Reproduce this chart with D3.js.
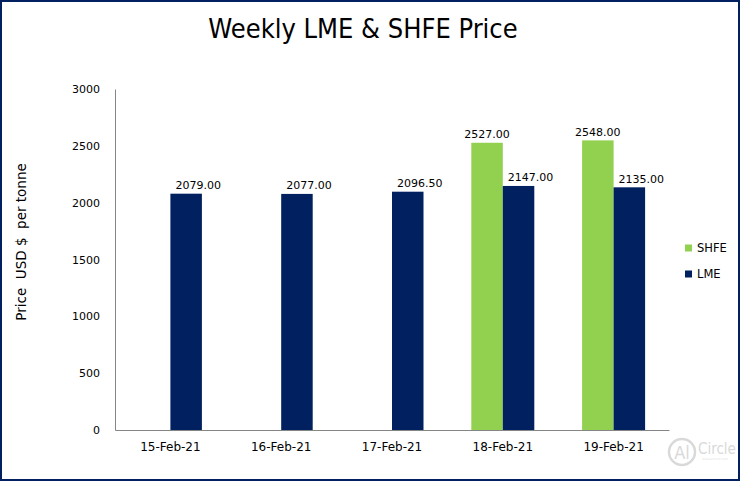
<!DOCTYPE html>
<html>
<head>
<meta charset="utf-8">
<script src="https://cdn.jsdelivr.net/npm/d3@7"></script>
<style>
  html, body { margin: 0; padding: 0; background: #fff; }
  svg { display: block; }
</style>
</head>
<body>
<svg id="chart" width="740" height="481"></svg>
<script>
const categories = ["15-Feb-21", "16-Feb-21", "17-Feb-21", "18-Feb-21", "19-Feb-21"];
const shfeValues = [null, null, null, 2527.00, 2548.00];
const lmeValues = [2079.00, 2077.00, 2096.50, 2147.00, 2135.00];
const yTicks = [0, 500, 1000, 1500, 2000, 2500, 3000];
const seriesNames = ["SHFE", "LME"];
const seriesColors = ["#92D050", "#002060"];

const svg = d3.select("#chart");
const W = 740, H = 481;

// background + border
svg.append("rect").attr("x", 1).attr("y", 1).attr("width", W - 2).attr("height", H - 2)
  .attr("fill", "#fff").attr("stroke", "#002060").attr("stroke-width", 2);

// title
svg.append("text").attr("x", 363).attr("y", 38).attr("text-anchor", "middle")
  .style("font-family", "'DejaVu Sans Condensed', 'DejaVu Sans', sans-serif")
  .style("font-stretch", "condensed")
  .style("font-size", "27px").attr("fill", "#000")
  .text("Weekly LME & SHFE Price");

const x = d3.scaleBand().domain(categories).range([115, 669]).padding(0);
const y = d3.scaleLinear().domain([0, 3000]).range([430, 89]);
const barW = 31.5;

const font = "'DejaVu Sans', Verdana, sans-serif";

// y axis
const yAxis = svg.append("g").attr("transform", "translate(115,0)")
  .call(d3.axisLeft(y).tickValues(yTicks).tickSize(0).tickPadding(15).tickFormat(d3.format("d")));
yAxis.select(".domain").attr("stroke", "#868686");
yAxis.selectAll("text").style("font-family", font).style("font-size", "11px").attr("fill", "#000");

// x axis
const xAxis = svg.append("g").attr("transform", "translate(0,430)")
  .call(d3.axisBottom(x).tickSize(0).tickPadding(12));
xAxis.select(".domain").attr("stroke", "#868686");
xAxis.selectAll("text").style("font-family", font).style("font-size", "12px").attr("fill", "#000");

// bars
const shfeData = categories.map((c, i) => ({ c, v: shfeValues[i] })).filter(d => d.v != null);
const lmeData = categories.map((c, i) => ({ c, v: lmeValues[i] }));

const cx = c => x(c) + x.bandwidth() / 2;

svg.append("g").selectAll("rect").data(shfeData).join("rect")
  .attr("x", d => cx(d.c) - barW).attr("width", barW)
  .attr("y", d => y(d.v)).attr("height", d => y(0) - y(d.v))
  .attr("fill", seriesColors[0]);

svg.append("g").selectAll("rect").data(lmeData).join("rect")
  .attr("x", d => cx(d.c)).attr("width", barW)
  .attr("y", d => y(d.v)).attr("height", d => y(0) - y(d.v))
  .attr("fill", seriesColors[1]);

// data labels
svg.append("g").selectAll("text").data(shfeData).join("text")
  .attr("x", d => cx(d.c) - barW / 2).attr("y", d => y(d.v) - 4.5)
  .attr("text-anchor", "middle")
  .style("font-family", font).style("font-size", "11px").attr("fill", "#000")
  .text(d => d3.format(".2f")(d.v));

svg.append("g").selectAll("text").data(lmeData).join("text")
  .attr("x", d => cx(d.c) + barW / 2 + 12).attr("y", d => y(d.v) - 4.5)
  .attr("text-anchor", "middle")
  .style("font-family", font).style("font-size", "11px").attr("fill", "#000")
  .text(d => d3.format(".2f")(d.v));

// y axis title
svg.append("text").attr("transform", "translate(26,242) rotate(-90)")
  .attr("text-anchor", "middle").attr("xml:space", "preserve")
  .style("white-space", "pre")
  .style("font-family", font).style("font-size", "13.5px").attr("fill", "#000")
  .text("Price  USD $  per tonne");

// legend
const legend = svg.append("g");
seriesNames.forEach((n, i) => {
  const ly = 248 + i * 26;
  legend.append("rect").attr("x", 685).attr("y", ly - 3.5).attr("width", 7).attr("height", 7)
    .attr("fill", seriesColors[i]);
  legend.append("text").attr("x", 697).attr("y", ly + 4)
    .style("font-family", font).style("font-size", "11.5px").attr("fill", "#000").text(n);
});

// watermark logo
const logo = svg.append("g");
logo.append("circle").attr("cx", 682).attr("cy", 452).attr("r", 13)
  .attr("fill", "none").attr("stroke", "#d9d9d9").attr("stroke-width", 2.5);
logo.append("text").attr("x", 682).attr("y", 459).attr("text-anchor", "middle")
  .style("font-family", "'DejaVu Sans Condensed', sans-serif").style("font-size", "18px")
  .attr("fill", "#d9d9d9").text("Al");
logo.append("text").attr("x", 698).attr("y", 454)
  .style("font-family", "'DejaVu Sans Condensed', sans-serif").style("font-size", "15px")
  .attr("fill", "#d9d9d9").text("Circle");
logo.append("text").attr("x", 715).attr("y", 460).attr("text-anchor", "middle")
  .style("font-family", font).style("font-size", "3px")
  .attr("fill", "#e3e3e3").text("www.alcircle.com");
</script>
</body>
</html>
